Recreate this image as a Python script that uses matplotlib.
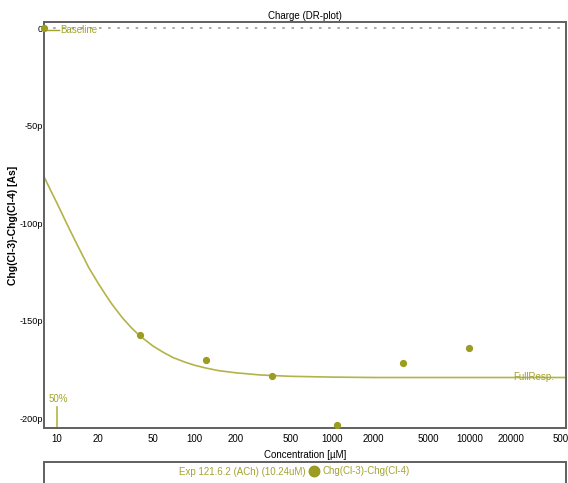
import numpy as np
import matplotlib.pyplot as plt
from matplotlib.patches import Rectangle
from matplotlib import font_manager

# font: narrow Arial-like if available
fams = {f.name for f in font_manager.fontManager.ttflist}
plt.rcParams['font.family'] = ['Liberation Sans Narrow' if 'Liberation Sans Narrow' in fams else 'Liberation Sans', 'DejaVu Sans']

# Data (charge in pAs, concentration in uM)
conc = [40, 121, 364, 1093, 3280, 9840]
charge = [-157.2, -170.2, -178.3, -203.5, -171.6, -163.9]

baseline_conc = 8.06
baseline_charge = 0.0

# fitted curve
fit_conc = [8.06, 9, 10, 11, 12, 13.5, 15, 17, 20, 22.5, 25, 30, 35, 40, 50, 60, 70, 85, 100,
            120, 150, 200, 300, 500, 1000, 2000, 5000, 50000]
fit_charge = [-76.0, -83.0, -89.5, -95.6, -101.2, -108.5, -114.9, -122.5, -130.8, -136.4,
              -141.2, -148.5, -153.7, -157.6, -162.9, -166.3, -168.8, -171.1, -172.7,
              -174.1, -175.5, -176.6, -177.7, -178.4, -178.8, -179.0, -179.0, -179.0]

ec50 = 10
full_resp = -179.0

xticks = [10, 20, 50, 100, 200, 500, 1000, 2000, 5000, 10000, 20000, 50000]
yticks = [0, -50, -100, -150, -200]
ytick_labels = ['0', '-50p', '-100p', '-150p', '-200p']

olive = '#9c9c22'
olive_line = '#b3b348'
olive_text = '#a3a330'
spine_col = '#606060'

fig = plt.figure(figsize=(5.68, 4.83), dpi=100)
ax = fig.add_axes([44 / 568, 1 - 428 / 483, 522 / 568, 406 / 483])

ax.set_xscale('log')
ax.set_xlim(8.06, 50000)
ax.set_ylim(-204.9, 3.3)

ax.plot(fit_conc, fit_charge, color=olive_line, lw=1.2, zorder=2)
pts, = ax.plot(conc, charge, 'o', color=olive, ms=4.2, zorder=3, clip_on=False)
ax.plot([baseline_conc], [baseline_charge], 'o', color=olive, ms=4.2, zorder=3, clip_on=False)

# zero line
ax.axhline(0, color='#9a9a9a', lw=1.2, ls=(0, (1.5, 4)), zorder=1)

# baseline label
ax.plot([baseline_conc, 10.3], [-0.8, -0.8], color=olive_text, lw=1)
ax.text(10.6, -0.8, 'Baseline', color=olive_text, fontsize=7, va='center', ha='left')

# 50% marker
ax.plot([ec50, ec50], [-204.9, -194], color=olive_line, lw=1.2)
ax.text(ec50 * 1.02, -192.5, '50%', color=olive_text, fontsize=7, ha='center', va='bottom')

# FullResp label
ax.text(41000, full_resp, 'FullResp.', color=olive_text, fontsize=7, ha='right', va='center')

ax.set_xticks(xticks)
ax.set_xticklabels([str(t) for t in xticks])
ax.minorticks_off()
ax.set_yticks(yticks)
ax.set_yticklabels(ytick_labels)
ax.tick_params(length=0, labelsize=7, pad=4)
ax.tick_params(axis='y', pad=1, labelsize=6.6)

for s in ax.spines.values():
    s.set_color(spine_col)
    s.set_linewidth(1.4)

ax.set_title('Charge (DR-plot)', fontsize=7, pad=2)
ax.set_xlabel('Concentration [\u00b5M]', fontsize=7, labelpad=5)
ax.set_ylabel('Chg(Cl-3)-Chg(Cl-4) [As]', fontsize=7.5, fontweight='bold')
ax.yaxis.set_label_coords(-26 / 522, 0.5)

# legend box at bottom (cut off by the figure edge)
fig.add_artist(Rectangle((44 / 568, -0.05), 522 / 568, 0.05 + 21 / 483,
                         transform=fig.transFigure, fill=False, edgecolor=spine_col, lw=1.4))
fig.text(306 / 568, 1 - 472 / 483, 'Exp 121.6.2 (ACh) (10.24uM)', color=olive_text,
         fontsize=7, ha='right', va='center')
fig.legend(handles=[pts], labels=['Chg(Cl-3)-Chg(Cl-4)'], loc='center left',
           bbox_to_anchor=(309 / 568, 1 - 471 / 483), frameon=False, fontsize=7,
           labelcolor=olive_text, markerscale=1.8, handlelength=1.0, handletextpad=0.4,
           borderaxespad=0, borderpad=0)

fig.savefig('out.png', dpi=100)
